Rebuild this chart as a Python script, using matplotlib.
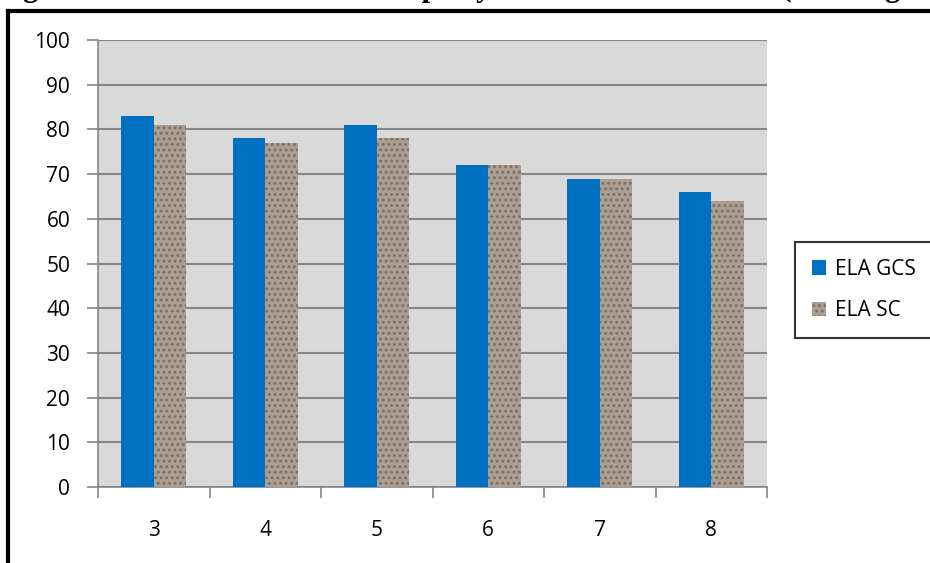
import matplotlib.pyplot as plt
from matplotlib.lines import Line2D
import numpy as np

grades = ['3', '4', '5', '6', '7', '8']
ela_gcs = [83, 78, 81, 72, 69, 66]
ela_sc = [81, 77, 78, 72, 69, 64]
yticks = list(range(0, 101, 10))

title = 'Figure 4: Percent Met and Exemplary on ELA GCS and SC (Reading Grades 3-8)'

plt.rcParams['font.family'] = ['Open Sans', 'DejaVu Sans']
plt.rcParams['hatch.linewidth'] = 1.3

fig = plt.figure(figsize=(9.3, 5.63), dpi=100)
ax = fig.add_axes([98/930, 1-487/563, (767-98)/930, (487-40)/563])
ax.set_facecolor('#d9d9d9')

x = np.arange(len(grades))
w = 0.29
ax.bar(x - w/2, ela_gcs, w, color='#0070c0', label='ELA GCS', zorder=3)
ax.bar(x + w/2, ela_sc, w, color='#ab9e92', edgecolor='#7d6e63', hatch='...',
       linewidth=0, label='ELA SC', zorder=3)

ax.set_xlim(-0.5, len(grades) - 0.5)
ax.set_ylim(0, 100)
ax.set_yticks(yticks)
ax.set_yticklabels([str(t) for t in yticks], fontsize=15)
ax.set_xticks(x)
ax.set_xticklabels(grades, fontsize=15)
ax.set_xticks(np.arange(-0.5, len(grades)), minor=True)
ax.tick_params(axis='x', which='major', length=0, pad=24)
ax.tick_params(axis='x', which='minor', length=8, color='#868686', width=1.2)
ax.tick_params(axis='y', length=8, color='#868686', width=1.2, pad=12)
ax.yaxis.grid(True, color='#868686', linewidth=1.5, zorder=1)
ax.set_axisbelow(True)
for s in ['top', 'right']:
    ax.spines[s].set_visible(False)
for s in ['left', 'bottom']:
    ax.spines[s].set_color('#868686')
    ax.spines[s].set_linewidth(1.2)

leg = ax.legend(loc='center left', bbox_to_anchor=(795/930, 1-290/563),
                bbox_transform=fig.transFigure, fontsize=15, frameon=True,
                fancybox=False, edgecolor='black', handlelength=0.7,
                handleheight=0.7, labelspacing=1.0, borderpad=0.8,
                handletextpad=0.4, borderaxespad=0)
leg.get_frame().set_linewidth(1.5)

# outer frame of the pasted chart
fig.add_artist(Line2D([8/930, 8/930], [0, 1-11/563], color='black', lw=3,
                      transform=fig.transFigure))
fig.add_artist(Line2D([8/930, 1], [1-11/563, 1-11/563], color='black', lw=3,
                      transform=fig.transFigure))

# caption cut off at top of picture, as in the source
fig.text(-0.004, 1+4/563, title, fontsize=22, fontweight='bold',
         family='Liberation Serif', va='baseline', ha='left')

fig.savefig('out.png', dpi=100)
